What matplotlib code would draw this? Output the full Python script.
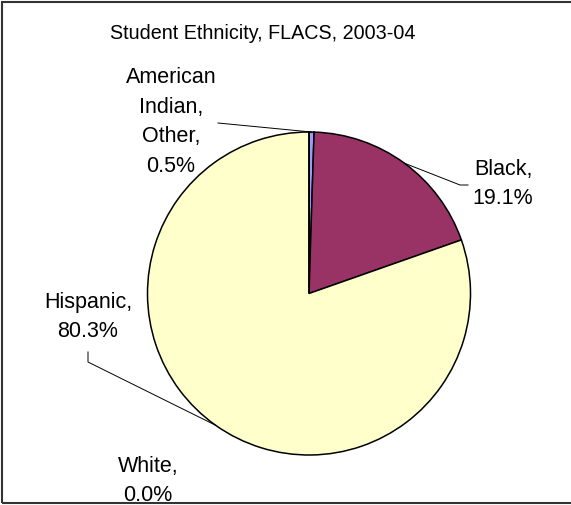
import numpy as np
import matplotlib
matplotlib.use("Agg")
import matplotlib.pyplot as plt
from matplotlib.patches import Rectangle

# -------------------------
# Data
# -------------------------
groups = ["American\nIndian,\nOther", "Black", "Hispanic", "White"]
shares = [0.5, 19.1, 80.3, 0.0]
colors = ["#9999FF", "#993366", "#FFFFCC", "#FFFFFF"]
title = "Student Ethnicity, FLACS, 2003-04"

W, H = 571, 506
plt.rcParams['font.family'] = ['Liberation Sans', 'DejaVu Sans']

fig = plt.figure(figsize=(W / 100, H / 100), dpi=100)
ax = fig.add_axes([0, 0, 1, 1])

cx, cy, R = 309, H - 294.5, 161.5
wedges, _ = ax.pie(shares, colors=colors, startangle=90, counterclock=False,
                   center=(cx, cy), radius=R, frame=True,
                   wedgeprops=dict(edgecolor='black', linewidth=1.1))
ax.set_xlim(0, W)
ax.set_ylim(0, H)
ax.axis('off')

def edge_point(i):
    th = np.deg2rad((wedges[i].theta1 + wedges[i].theta2) / 2)
    return cx + R * np.cos(th), cy + R * np.sin(th)

fs = 15.5
# label positions (pixel layout, y from top)
label_pos = [(171, 122), (503, 184), (88, 317), (148, 481)]
for (x, y), g, v in zip(label_pos, groups, shares):
    ax.text(x, H - y, f"{g},\n{v:.1f}%", ha='center', va='center', fontsize=fs,
            linespacing=1.55, color='black')

# leader lines
ex, ey = edge_point(0)
ax.plot([218, ex], [H - 124, ey], color='black', lw=0.7)
ex, ey = edge_point(1)
ax.plot([ex, 460, 468], [ey, H - 186, H - 186], color='black', lw=0.7)
ex, ey = edge_point(2)
ax.plot([88, 88, ex], [H - 353, H - 363, ey], color='black', lw=0.7)

ax.text(263, H - 33, title, ha='center', va='center', fontsize=14.2, color='black')

# outer frame
fig.patches.append(Rectangle((2 / W, 2 / H), 1.2, (H - 4.5) / H, transform=fig.transFigure,
                             fill=False, edgecolor='#333333', linewidth=1.5))

fig.savefig("out.png", dpi=100)
